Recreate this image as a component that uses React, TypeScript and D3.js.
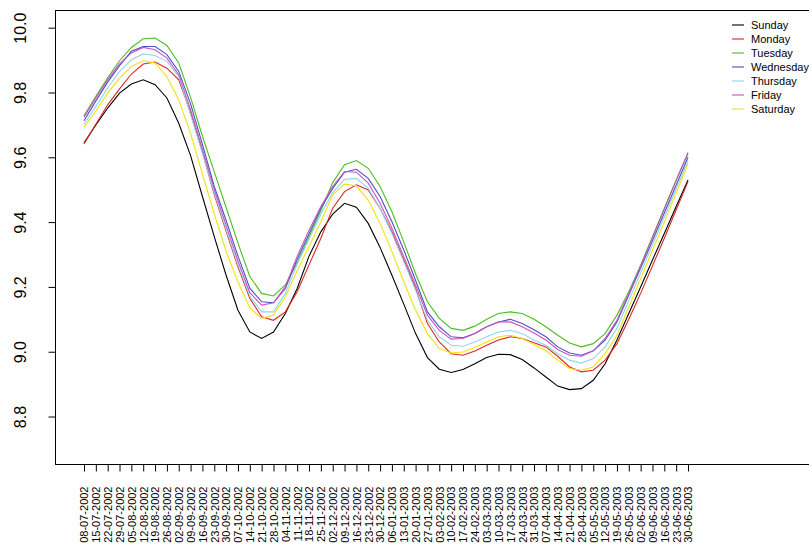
import React, { useEffect, useRef } from "react";
import * as d3 from "d3";

const weeks = [
  "08-07-2002", "15-07-2002", "22-07-2002", "29-07-2002", "05-08-2002", "12-08-2002",
  "19-08-2002", "26-08-2002", "02-09-2002", "09-09-2002", "16-09-2002", "23-09-2002",
  "30-09-2002", "07-10-2002", "14-10-2002", "21-10-2002", "28-10-2002", "04-11-2002",
  "11-11-2002", "18-11-2002", "25-11-2002", "02-12-2002", "09-12-2002", "16-12-2002",
  "23-12-2002", "30-12-2002", "06-01-2003", "13-01-2003", "20-01-2003", "27-01-2003",
  "03-02-2003", "10-02-2003", "17-02-2003", "24-02-2003", "03-03-2003", "10-03-2003",
  "17-03-2003", "24-03-2003", "31-03-2003", "07-04-2003", "14-04-2003", "21-04-2003",
  "28-04-2003", "05-05-2003", "12-05-2003", "19-05-2003", "26-05-2003", "02-06-2003",
  "09-06-2003", "16-06-2003", "23-06-2003", "30-06-2003",
];

const yTicks = [8.8, 9.0, 9.2, 9.4, 9.6, 9.8, 10.0];

const sunday = [
  9.644, 9.700, 9.752, 9.798, 9.826, 9.839, 9.824, 9.783, 9.705, 9.605, 9.479, 9.355, 9.236,
  9.128, 9.061, 9.041, 9.061, 9.118, 9.195, 9.295, 9.370, 9.425, 9.458, 9.446, 9.396, 9.322,
  9.236, 9.147, 9.056, 8.982, 8.946, 8.936, 8.945, 8.963, 8.982, 8.992, 8.991, 8.976, 8.950,
  8.922, 8.894, 8.883, 8.886, 8.912, 8.963, 9.036, 9.118, 9.200, 9.283, 9.365, 9.448, 9.530,
];
const monday = [
  9.641, 9.702, 9.762, 9.811, 9.857, 9.888, 9.894, 9.875, 9.839, 9.738, 9.615, 9.485, 9.372,
  9.262, 9.165, 9.108, 9.097, 9.123, 9.185, 9.268, 9.350, 9.443, 9.494, 9.515, 9.499, 9.443,
  9.370, 9.283, 9.195, 9.087, 9.030, 8.994, 8.989, 9.002, 9.020, 9.036, 9.046, 9.041, 9.028,
  9.015, 8.986, 8.953, 8.938, 8.943, 8.974, 9.025, 9.100, 9.180, 9.265, 9.350, 9.438, 9.525,
];
const tuesday = [
  9.728, 9.788, 9.845, 9.898, 9.939, 9.966, 9.968, 9.945, 9.891, 9.785, 9.665, 9.555, 9.445,
  9.335, 9.232, 9.180, 9.172, 9.206, 9.275, 9.355, 9.435, 9.522, 9.577, 9.590, 9.566, 9.510,
  9.432, 9.339, 9.240, 9.154, 9.103, 9.072, 9.066, 9.079, 9.100, 9.118, 9.123, 9.118, 9.100,
  9.077, 9.051, 9.027, 9.015, 9.025, 9.056, 9.113, 9.185, 9.267, 9.355, 9.443, 9.530, 9.612,
];
const wednesday = [
  9.713, 9.774, 9.832, 9.883, 9.927, 9.942, 9.942, 9.917, 9.865, 9.765, 9.640, 9.510, 9.405,
  9.295, 9.196, 9.154, 9.151, 9.195, 9.285, 9.364, 9.443, 9.504, 9.554, 9.563, 9.535, 9.479,
  9.401, 9.314, 9.220, 9.123, 9.077, 9.046, 9.043, 9.056, 9.077, 9.092, 9.100, 9.087, 9.068,
  9.046, 9.015, 8.996, 8.989, 9.003, 9.036, 9.092, 9.175, 9.258, 9.342, 9.428, 9.514, 9.600,
];
const thursday = [
  9.702, 9.757, 9.814, 9.865, 9.901, 9.919, 9.914, 9.896, 9.849, 9.731, 9.612, 9.490, 9.378,
  9.268, 9.172, 9.123, 9.123, 9.180, 9.270, 9.347, 9.425, 9.491, 9.532, 9.535, 9.504, 9.443,
  9.365, 9.278, 9.190, 9.097, 9.046, 9.020, 9.017, 9.030, 9.046, 9.061, 9.066, 9.056, 9.036,
  9.020, 8.994, 8.974, 8.965, 8.979, 9.015, 9.072, 9.158, 9.243, 9.330, 9.416, 9.503, 9.590,
];
const friday = [
  9.724, 9.783, 9.839, 9.888, 9.922, 9.939, 9.932, 9.906, 9.855, 9.747, 9.625, 9.500, 9.390,
  9.280, 9.182, 9.144, 9.151, 9.200, 9.295, 9.375, 9.448, 9.510, 9.556, 9.554, 9.520, 9.458,
  9.381, 9.293, 9.205, 9.113, 9.066, 9.039, 9.041, 9.056, 9.077, 9.092, 9.092, 9.077, 9.058,
  9.036, 9.007, 8.989, 8.986, 9.003, 9.041, 9.097, 9.180, 9.265, 9.352, 9.440, 9.528, 9.615,
];
const saturday = [
  9.693, 9.743, 9.798, 9.844, 9.880, 9.898, 9.891, 9.849, 9.777, 9.674, 9.548, 9.425, 9.310,
  9.215, 9.135, 9.103, 9.113, 9.169, 9.250, 9.325, 9.401, 9.484, 9.517, 9.512, 9.468, 9.396,
  9.309, 9.216, 9.128, 9.056, 9.010, 8.996, 8.999, 9.013, 9.030, 9.046, 9.051, 9.041, 9.022,
  9.003, 8.974, 8.948, 8.943, 8.953, 8.994, 9.051, 9.138, 9.225, 9.313, 9.400, 9.490, 9.580,
];

const dayNames = ["Sunday", "Monday", "Tuesday", "Wednesday", "Thursday", "Friday", "Saturday"];
const dayColors = ["#000000", "#e0251f", "#4cbf1f", "#4f4fc2", "#8fd6ef", "#c653c6", "#f2e20c"];
const dayValues = [sunday, monday, tuesday, wednesday, thursday, friday, saturday];

const W = 809;
const H = 551;

const LineChart = () => {
  const ref = useRef<SVGSVGElement | null>(null);

  useEffect(() => {
    drawChart();
  }, []);

  const drawChart = () => {
    const svg = d3.select(ref.current);
    svg.selectAll("*").remove();

    const left = 55, top = 10.5, bottom = 464.5, right = 815;
    const font = "Liberation Sans, Arial, Helvetica, sans-serif";

    const x = d3.scaleLinear().domain([0, weeks.length - 1]).range([84, 688]);
    const y = d3.scaleLinear().domain([8.652, 10.053]).range([bottom, top]);

    // plot box (right side runs off the page)
    svg.append("rect")
      .attr("x", left + 0.5).attr("y", top)
      .attr("width", right - left).attr("height", bottom - top)
      .attr("fill", "none").attr("stroke", "#000").attr("stroke-width", 1);

    const line = d3.line<number>()
      .x((d, i) => x(i))
      .y((d) => y(d));

    svg.append("g")
      .selectAll("path")
      .data(dayValues)
      .enter()
      .append("path")
      .attr("d", (d) => line(d))
      .attr("fill", "none")
      .attr("stroke", (d, i) => dayColors[i])
      .attr("stroke-width", 1.1);

    // y axis, labels rotated like R's default
    const yAxis = d3.axisLeft(y)
      .tickValues(yTicks)
      .tickSize(7)
      .tickPadding(0)
      .tickFormat(d3.format(".1f"));
    const gy = svg.append("g")
      .attr("transform", `translate(${left + 0.5},0)`)
      .call(yAxis);
    gy.select(".domain").remove();
    gy.selectAll("line").attr("stroke", "#000");
    gy.selectAll("text")
      .attr("font-family", font)
      .attr("font-size", 16)
      .attr("fill", "#000")
      .attr("text-anchor", "middle")
      .attr("x", 0).attr("y", 0)
      .attr("transform", `translate(${20 - left},0) rotate(-90)`)
      .attr("dy", "0.36em");

    // x axis
    const xAxis = d3.axisBottom(x)
      .tickValues(d3.range(weeks.length))
      .tickSize(7)
      .tickFormat((d: any) => weeks[d]);
    const gx = svg.append("g")
      .attr("transform", `translate(0,${bottom})`)
      .call(xAxis);
    gx.select(".domain").remove();
    gx.selectAll("line").attr("stroke", "#000");
    gx.selectAll("text")
      .attr("font-family", font)
      .attr("font-size", 11)
      .attr("fill", "#000")
      .attr("text-anchor", "end")
      .attr("x", 0).attr("y", 0)
      .attr("transform", "translate(0,22) rotate(-90)")
      .attr("dy", "0.35em");

    // legend
    const lg = svg.append("g").attr("transform", "translate(732,25)");
    const item = lg.selectAll("g")
      .data(dayNames)
      .enter()
      .append("g")
      .attr("transform", (d, i) => `translate(0,${i * 14})`);
    item.append("line")
      .attr("x1", 0).attr("x2", 12)
      .attr("stroke", (d, i) => dayColors[i])
      .attr("stroke-width", 1.1);
    item.append("text")
      .attr("x", 19)
      .attr("dy", "0.35em")
      .attr("font-family", font)
      .attr("font-size", 11)
      .text((d) => d);
  };

  return <svg ref={ref} width={W} height={H} style={{ display: "block" }} />;
};

export default function App() {
  return (
    <div style={{ position: "fixed", left: 0, top: 0, width: W, height: H, background: "#fff", overflow: "hidden" }}>
      <LineChart />
    </div>
  );
}
